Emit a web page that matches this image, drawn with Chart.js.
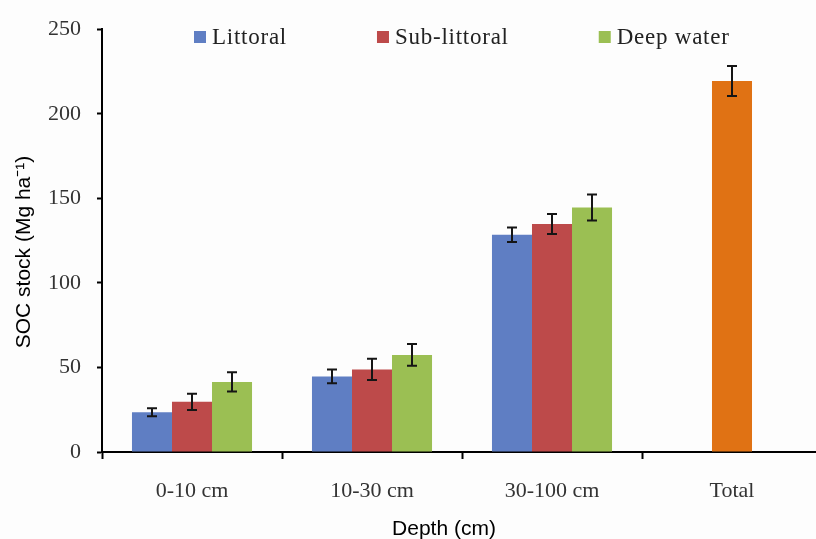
<!DOCTYPE html>
<html lang="en">
<head>
<meta charset="UTF-8">
<title>SOC stock by depth</title>
<style>
  body {
    margin: 0;
    background: #fdfdfd;
    overflow: hidden;
  }
  .chart-box {
    position: relative;
    width: 830px;   /* a bit wider than the window: the last category runs off the right edge */
    height: 539px;
  }
</style>
<script src="https://cdn.jsdelivr.net/npm/chart.js"></script>
</head>
<body>
<div class="chart-box"><canvas id="socChart"></canvas></div>
<script>
// data
const depths = ['0-10 cm', '10-30 cm', '30-100 cm', 'Total'];
const littoral = [23.5, 44.7, 128.5, null];
const littoralErr = [2.4, 4.1, 4.3, null];
const subLittoral = [29.7, 48.8, 134.8, null];
const subLittoralErr = [4.8, 6.3, 5.9, null];
const deepWater = [41.4, 57.4, 144.6, null];
const deepWaterErr = [5.7, 6.4, 7.7, null];
const total = [null, null, null, 219.4];
const totalErr = [null, null, null, 8.9];
const yMin = 0, yMax = 250, yStep = 50;
const yTitle = 'SOC stock (Mg ha\u207B\u00B9)';
const xTitle = 'Depth (cm)';

const serif = '"Liberation Serif", "Times New Roman", serif';
const sans = '"Liberation Sans", Arial, sans-serif';

// error bars (whiskers with caps)
const errorBars = {
  id: 'errorBars',
  afterDatasetsDraw(chart) {
    const ctx = chart.ctx;
    const y = chart.scales.y;
    ctx.save();
    ctx.strokeStyle = '#151515';
    ctx.lineWidth = 2;
    chart.data.datasets.forEach((ds, i) => {
      const meta = chart.getDatasetMeta(i);
      meta.data.forEach((bar, j) => {
        const v = ds.data[j], e = ds.errors[j];
        if (v == null || e == null) return;
        const top = y.getPixelForValue(v + e);
        const bot = y.getPixelForValue(v - e);
        const x = Math.round(bar.x);
        ctx.beginPath();
        ctx.moveTo(x, top); ctx.lineTo(x, bot);
        ctx.moveTo(x - 5, top); ctx.lineTo(x + 5, top);
        ctx.moveTo(x - 5, bot); ctx.lineTo(x + 5, bot);
        ctx.stroke();
      });
    });
    ctx.restore();
  }
};

// legend sits inside the plot, at the top
const insideLegend = {
  id: 'insideLegend',
  afterDraw(chart) {
    const ctx = chart.ctx;
    ctx.save();
    ctx.font = '23px ' + serif;
    ctx.letterSpacing = '0.75px';
    ctx.textBaseline = 'middle';
    let x = 194;
    const yc = 37;
    chart.data.datasets.forEach(ds => {
      if (!ds.inLegend) return;
      ctx.fillStyle = ds.backgroundColor;
      ctx.fillRect(x, yc - 6, 12, 12);
      ctx.fillStyle = '#222';
      ctx.fillText(ds.label, x + 18, yc + 1);
      x += 18 + ctx.measureText(ds.label).width + 90;
    });
    ctx.restore();
  }
};

// axis titles
const axisTitles = {
  id: 'axisTitles',
  afterDraw(chart) {
    const ctx = chart.ctx;
    ctx.save();
    ctx.font = '21px ' + sans;
    ctx.fillStyle = '#000';
    ctx.textAlign = 'center';
    ctx.textBaseline = 'middle';
    ctx.fillText(xTitle, 444, 529);
    ctx.translate(24, 252);
    ctx.rotate(-Math.PI / 2);
    ctx.fillText(yTitle, 0, 0);
    ctx.restore();
  }
};

const ctx = document.getElementById('socChart').getContext('2d');
const socChart = new Chart(ctx, {
  type: 'bar',
  data: {
    labels: depths,
    datasets: [
      { label: 'Littoral', data: littoral, errors: littoralErr, stack: 'a',
        backgroundColor: '#5f7ec3', inLegend: true },
      { label: 'Sub-littoral', data: subLittoral, errors: subLittoralErr, stack: 'b',
        backgroundColor: '#bd4a4a', inLegend: true },
      { label: 'Deep water', data: deepWater, errors: deepWaterErr, stack: 'c',
        backgroundColor: '#9bbf53', inLegend: true },
      { label: 'Total', data: total, errors: totalErr, stack: 'b',
        backgroundColor: '#e07214', inLegend: false }
    ]
  },
  options: {
    responsive: true,
    maintainAspectRatio: false,
    animation: false,
    categoryPercentage: 0.667,
    barPercentage: 1,
    layout: { padding: { top: 23, right: 8, bottom: 0, left: 0 } },
    plugins: {
      legend: { display: false },
      tooltip: { enabled: false }
    },
    scales: {
      x: {
        stacked: true,
        afterFit: s => { s.height = 87; },
        border: { color: '#000', width: 2 },
        grid: { offset: true, drawOnChartArea: false, tickLength: 7, tickColor: '#000', tickWidth: 2 },
        ticks: { font: { family: serif, size: 22 }, color: '#333', padding: 19 }
      },
      y: {
        stacked: false,
        min: yMin,
        max: yMax,
        afterFit: s => { s.width = 102; },
        border: { color: '#000', width: 2 },
        grid: { drawOnChartArea: false, tickLength: 5, tickColor: '#000', tickWidth: 2 },
        ticks: { stepSize: yStep, font: { family: serif, size: 22 }, color: '#333', padding: 16 }
      }
    }
  },
  plugins: [errorBars, insideLegend, axisTitles]
});
</script>
</body>
</html>
